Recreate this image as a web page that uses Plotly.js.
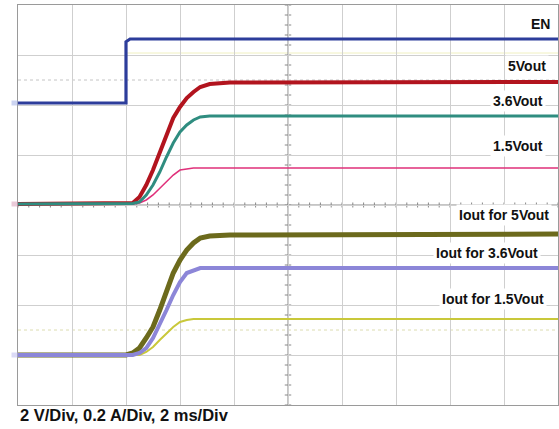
<!DOCTYPE html>
<html>
<head>
<meta charset="utf-8">
<script src="https://cdn.plot.ly/plotly-3.0.1.min.js"></script>
<style>html,body{margin:0;padding:0;background:#fff;}#chart{width:559px;height:429px;}</style>
</head>
<body>
<div id="chart"></div>
<script>
// Time in ms (EN edge at 0), 2 ms/div
var timeEN = [-4, 0, 0, 0.15, 16];
var valEN = [0, 0, 2.45, 2.56, 2.56];               // V

var timeRise = [-4, 0, 0.25, 0.5, 0.75, 1.0, 1.25, 1.5, 1.75, 2.0, 2.25, 2.5, 2.75, 3.1, 3.85, 16];
var vout5   = [0, 0, 0.04, 0.28, 0.76, 1.36, 2.04, 2.76, 3.44, 3.88, 4.24, 4.48, 4.68, 4.80, 4.86, 4.88]; // V
var vout36  = [0, 0, 0.02, 0.08, 0.36, 0.76, 1.28, 1.88, 2.44, 2.88, 3.16, 3.36, 3.48, 3.52, 3.52, 3.52]; // V
var vout15  = [0, 0, 0.00, 0.04, 0.16, 0.36, 0.64, 0.88, 1.16, 1.36, 1.40, 1.44, 1.44, 1.44, 1.44, 1.44]; // V
var iout5   = [0, 0, 0.008, 0.028, 0.068, 0.112, 0.18, 0.26, 0.328, 0.38, 0.42, 0.448, 0.468, 0.476, 0.48, 0.484]; // A
var iout36  = [0, 0, 0.000, 0.008, 0.028, 0.068, 0.12, 0.18, 0.24, 0.292, 0.328, 0.34, 0.348, 0.348, 0.348, 0.348]; // A
var iout15  = [0, 0, 0.000, 0.000, 0.012, 0.032, 0.06, 0.088, 0.112, 0.132, 0.14, 0.144, 0.144, 0.144, 0.144, 0.144]; // A

var labels = ["EN", "5Vout", "3.6Vout", "1.5Vout", "Iout for 5Vout", "Iout for 3.6Vout", "Iout for 1.5Vout"];
var footer = "2 V/Div, 0.2 A/Div, 2 ms/Div";

// scope settings (display scaling, in divisions)
var vScale = 2, iScale = 0.2;
var offEN = 2.04, offV = 0.02, offI = -3.0;

function toDiv(arr, scale, off) { return arr.map(function (v) { return v / scale + off; }); }
function tr(x, y, color, w) {
  return {x: x, y: y, type: 'scatter', mode: 'lines', line: {color: color, width: w, shape: 'linear'}, hoverinfo: 'skip', showlegend: false};
}

var data = [
  tr(timeEN, toDiv(valEN, vScale, offEN), '#2d3d9b', 3.2),
  tr(timeRise, toDiv(vout5, vScale, offV), '#b2141e', 4),
  tr(timeRise, toDiv(vout15, vScale, offV), '#e0307a', 1.6),
  tr(timeRise, toDiv(vout36, vScale, offV), '#2f8d80', 3),
  tr(timeRise, toDiv(iout5, iScale, offI), '#6c6a1c', 5),
  tr(timeRise, toDiv(iout15, iScale, offI), '#c9c83a', 2),
  tr(timeRise, toDiv(iout36, iScale, offI), '#8c86d8', 4)
];

var shapes = [];
// faint cursor / level lines
shapes.push({type: 'line', xref: 'x', yref: 'y', x0: -4, x1: 16, y0: 2.5, y1: 2.5, line: {color: '#c4c4c4', width: 1, dash: 'dot'}, layer: 'below'});
shapes.push({type: 'line', xref: 'x', yref: 'y', x0: 0, x1: 16, y0: 3.04, y1: 3.04, line: {color: '#f0f0c0', width: 1}, layer: 'below'});
shapes.push({type: 'line', xref: 'x', yref: 'y', x0: -4, x1: 16, y0: -2.5, y1: -2.5, line: {color: '#dcdcb0', width: 1, dash: 'dot'}, layer: 'below'});
// center axis ticks
for (var t = -4; t <= 16.001; t += 0.4) {
  shapes.push({type: 'line', xref: 'x', yref: 'y', x0: t, x1: t, y0: -0.05, y1: 0.05, line: {color: '#888', width: 1}, layer: 'below'});
}
for (var d = -4; d <= 4.001; d += 0.2) {
  shapes.push({type: 'line', xref: 'x', yref: 'y', x0: 5.88, x1: 6.12, y0: d, y1: d, line: {color: '#888', width: 1}, layer: 'below'});
}
// ground markers
[[offEN, '#8f9fe0'], [offV, '#d08aa8'], [offI, '#b0acea']].forEach(function (m) {
  shapes.push({type: 'rect', xref: 'paper', yref: 'y', x0: -0.012, x1: 0, y0: m[0] - 0.05, y1: m[0] + 0.05, fillcolor: m[1], opacity: 0.45, line: {width: 0}});
});

var labelPos = [[540, 24], [527, 66], [518, 101], [518, 146], [504, 215], [487, 253], [493, 299]];
var annotations = labels.map(function (s, i) {
  return {text: '<b>' + s + '</b>', xref: 'paper', yref: 'paper',
    x: (labelPos[i][0] - 18) / 540, y: 1 - (labelPos[i][1] - 5) / 400,
    xanchor: 'center', yanchor: 'middle', showarrow: false,
    bgcolor: '#ffffff', borderpad: 2,
    font: {family: 'Liberation Sans, Arial, sans-serif', size: 14, color: '#111'}};
});
annotations.push({text: '<b>' + footer + '</b>', xref: 'paper', yref: 'paper', x: 0, y: -(415 - 405) / 400,
  xanchor: 'left', yanchor: 'middle', showarrow: false,
  font: {family: 'Liberation Sans, Arial, sans-serif', size: 16.5, color: '#111'}});

var layout = {
  width: 559, height: 429,
  margin: {l: 18, r: 1, t: 5, b: 24, pad: 0},
  paper_bgcolor: '#ffffff', plot_bgcolor: '#ffffff',
  xaxis: {range: [-4, 16], dtick: 2, tick0: 0, showgrid: true, gridcolor: '#cfcfcf', gridwidth: 1,
    zeroline: false, showticklabels: false, ticks: '', showline: true, linecolor: '#9a9a9a', linewidth: 1, mirror: true, fixedrange: true},
  yaxis: {range: [-4, 4], dtick: 1, tick0: 0, showgrid: true, gridcolor: '#cfcfcf', gridwidth: 1,
    zeroline: false, showticklabels: false, ticks: '', showline: true, linecolor: '#9a9a9a', linewidth: 1, mirror: true, fixedrange: true},
  shapes: shapes.concat([
    {type: 'line', xref: 'x', yref: 'y', x0: -4, x1: 16, y0: 0, y1: 0, line: {color: '#8a8a8a', width: 1}, layer: 'below'},
    {type: 'line', xref: 'x', yref: 'y', x0: 6, x1: 6, y0: -4, y1: 4, line: {color: '#8a8a8a', width: 1}, layer: 'below'}
  ]),
  annotations: annotations
};

Plotly.newPlot('chart', data, layout, {displayModeBar: false, staticPlot: true});
</script>
</body>
</html>
